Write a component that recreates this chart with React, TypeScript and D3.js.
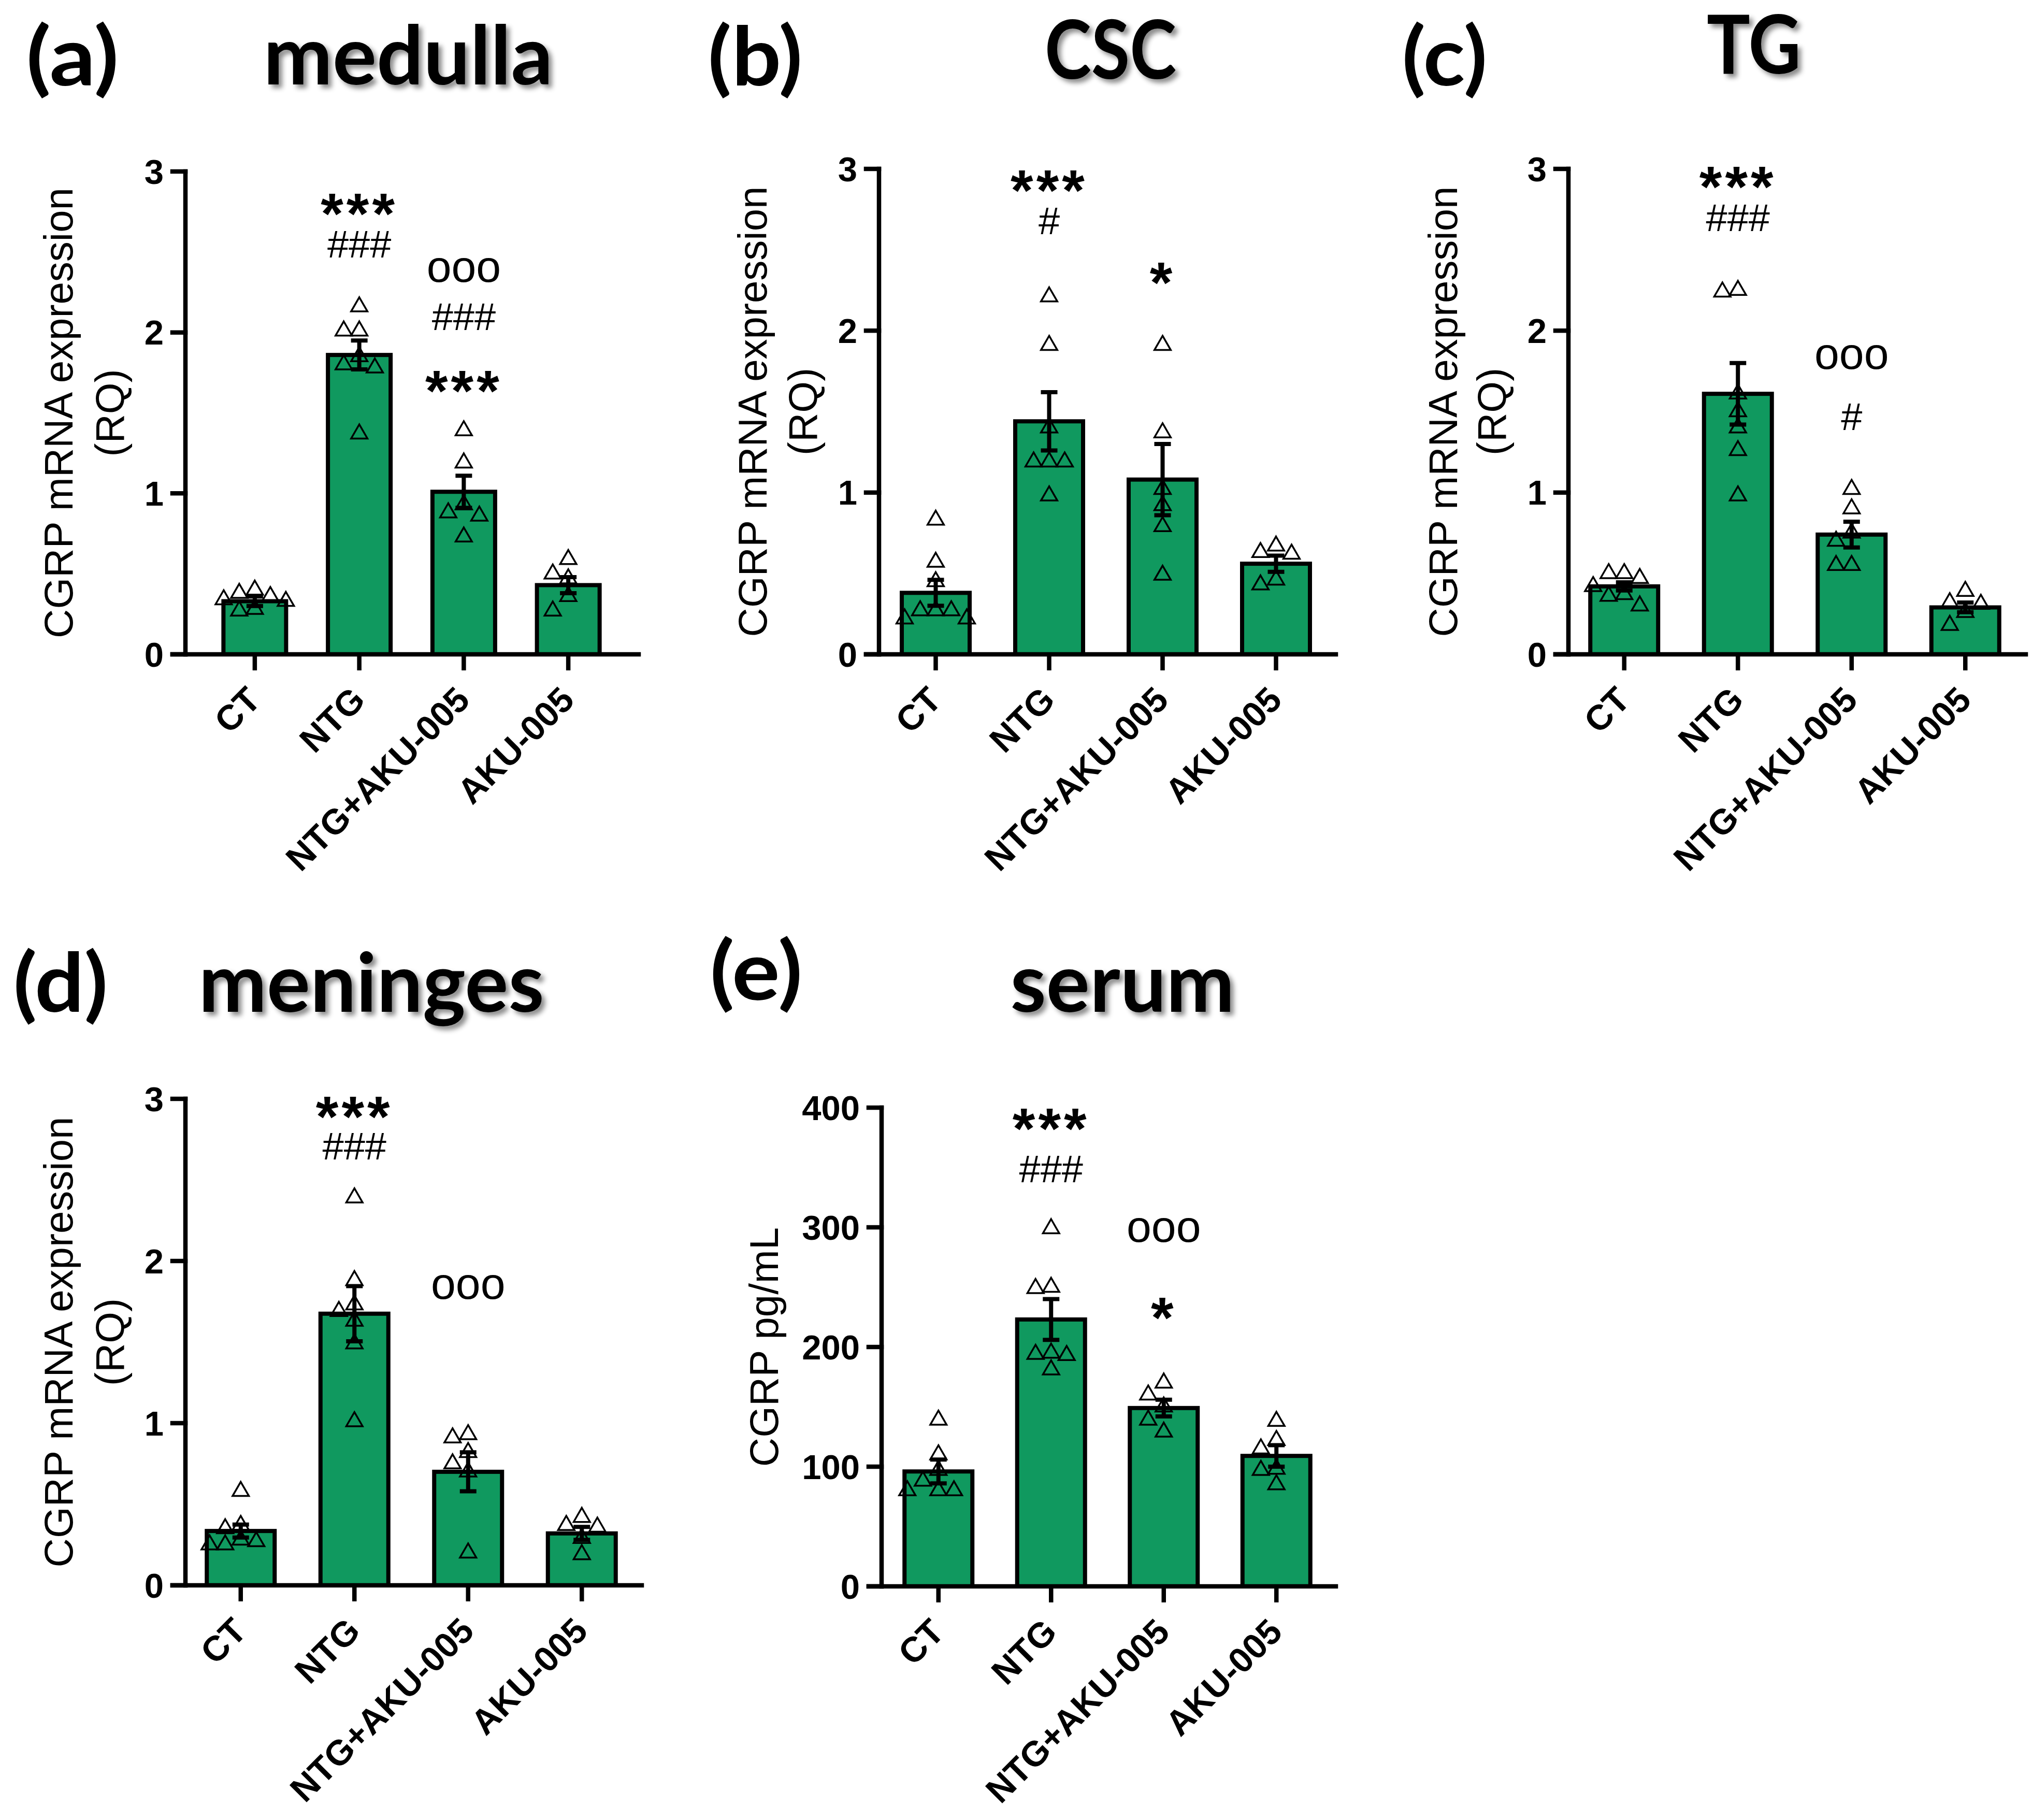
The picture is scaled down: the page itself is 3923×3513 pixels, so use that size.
import * as d3 from "d3";

const groups = ["CT", "NTG", "NTG+AKU-005", "AKU-005"];
const rqTicks = [0, 1, 2, 3];
const serumTicks = [0, 100, 200, 300, 400];

// (a) medulla
const medullaMean = [0.33, 1.86, 1.01, 0.43];
const medullaSem = [0.03, 0.09, 0.1, 0.05];
const medullaPoints = [
  [0.38, 0.36, 0.4, 0.33, 0.28, 0.27, 0.34],
  [2.16, 2.01, 2.01, 1.85, 1.78, 1.8, 1.37],
  [1.39, 1.19, 0.93, 0.88, 0.86, 0.73],
  [0.59, 0.5, 0.47, 0.36, 0.27],
];
const medullaMarks: [string, string, number][] = [
  ["NTG", "***", 2.83],
  ["NTG", "###", 2.55],
  ["NTG+AKU-005", "ooo", 2.39],
  ["NTG+AKU-005", "###", 2.1],
  ["NTG+AKU-005", "***", 1.73],
];

// (b) CSC
const cscMean = [0.38, 1.44, 1.08, 0.56];
const cscSem = [0.08, 0.18, 0.22, 0.05];
const cscPoints = [
  [0.83, 0.57, 0.45, 0.27, 0.27, 0.27, 0.22, 0.22],
  [2.21, 1.91, 1.4, 1.19, 1.19, 1.19, 0.98],
  [1.91, 1.37, 1.02, 0.92, 0.79, 0.49],
  [0.63, 0.67, 0.62, 0.43, 0.46],
];
const cscMarks: [string, string, number][] = [
  ["NTG", "***", 2.96],
  ["NTG", "#", 2.68],
  ["NTG+AKU-005", "*", 2.39],
];

// (c) TG
const tgMean = [0.42, 1.61, 0.74, 0.29];
const tgSem = [0.025, 0.19, 0.08, 0.03];
const tgPoints = [
  [0.5, 0.5, 0.47, 0.42, 0.37, 0.36, 0.3],
  [2.25, 2.24, 1.61, 1.5, 1.4, 1.26, 0.98],
  [1.02, 0.9, 0.75, 0.7, 0.55, 0.55],
  [0.39, 0.32, 0.31, 0.26, 0.18],
];
const tgMarks: [string, string, number][] = [
  ["NTG", "***", 2.98],
  ["NTG", "###", 2.7],
  ["NTG+AKU-005", "ooo", 1.84],
  ["NTG+AKU-005", "#", 1.47],
];

// (d) meninges
const meningesMean = [0.335, 1.675, 0.7, 0.32];
const meningesSem = [0.04, 0.17, 0.12, 0.04];
const meningesPoints = [
  [0.58, 0.37, 0.35, 0.28, 0.27, 0.25, 0.25],
  [2.39, 1.88, 1.73, 1.69, 1.63, 1.49, 1.01],
  [0.93, 0.91, 0.82, 0.75, 0.7, 0.2],
  [0.42, 0.37, 0.36, 0.29, 0.19],
];
const meningesMarks: [string, string, number][] = [
  ["NTG", "***", 2.98],
  ["NTG", "###", 2.71],
  ["NTG+AKU-005", "ooo", 1.84],
];

// (e) serum
const serumMean = [96, 223, 149, 109];
const serumSem = [10, 17, 7, 9];
const serumPoints = [
  [139, 110, 97, 88, 80, 80, 80],
  [299, 250, 249, 195, 194, 193, 181],
  [170, 160, 150, 139, 129],
  [138, 122, 115, 98, 97, 85],
];
const serumMarks: [string, string, number][] = [
  ["NTG", "***", 395],
  ["NTG", "###", 349],
  ["NTG+AKU-005", "ooo", 298],
  ["NTG+AKU-005", "*", 237],
];

const GREEN = "#10995f";
const AXIS_FONT = "'Liberation Sans', Arial, sans-serif";
const TITLE_FONT = "Lato, 'Open Sans', sans-serif";

// greedy scatter so triangles don't sit on top of each other
function swarm(vals: number[], y: (v: number) => number, step: number, w: number, h: number) {
  const placed: { x: number; y: number }[] = [];
  const out = vals.map(() => 0);
  const order = vals.map((_, i) => i).sort((a, b) => vals[b] - vals[a]);
  for (const i of order) {
    const py = y(vals[i]);
    for (let k = 0; k < 30; k++) {
      const dx = (k % 2 === 1 ? -1 : 1) * Math.ceil(k / 2) * step;
      if (!placed.some((p) => Math.abs(p.x - dx) < w && Math.abs(p.y - py) < h)) {
        placed.push({ x: dx, y: py });
        out[i] = dx;
        break;
      }
    }
  }
  return out;
}

function markStyle(text: string) {
  if (text.startsWith("*")) return { size: 112, shift: 0.6, spacing: 6, weight: 700 };
  if (text.startsWith("#")) return { size: 74, shift: 0.35, spacing: 0, weight: 400 };
  return { size: 86, shift: 0.27, spacing: 0, weight: 400 };
}

function Panel({ cfg }: { cfg: any }) {
  const y = d3.scaleLinear().domain([0, cfg.yMax]).range([cfg.y0, cfg.yTop]);
  const x = d3.scaleBand().domain(groups).range([cfg.bandL, cfg.bandR]);
  const cx = (g: string) => (x(g) as number) + x.bandwidth() / 2;
  const tri = d3.symbol(d3.symbolTriangle, 430)() as string;
  const tickLen = 25;
  const midY = (cfg.y0 + cfg.yTop) / 2;

  return (
    <g>
      <text
        x={cfg.tagX}
        y={cfg.tagY}
        textAnchor="middle"
        fontFamily={TITLE_FONT}
        fontWeight={700}
        fontSize={158}
        textLength={cfg.tagW}
        lengthAdjust="spacingAndGlyphs"
      >
        {cfg.tag}
      </text>
      <text
        x={cfg.titleX}
        y={cfg.titleY}
        textAnchor="middle"
        fontFamily={TITLE_FONT}
        fontWeight={700}
        fontSize={158}
        textLength={cfg.titleW}
        lengthAdjust="spacingAndGlyphs"
        filter="url(#shadow)"
      >
        {cfg.title}
      </text>

      {cfg.yLabel.map((s: string, i: number) => (
        <text
          key={s}
          transform={`translate(${cfg.axisX - cfg.yLabelOff[i]},${midY}) rotate(-90)`}
          textAnchor="middle"
          dominantBaseline="central"
          fontFamily={AXIS_FONT}
          fontSize={78}
        >
          {s}
        </text>
      ))}

      {groups.map((g, i) => {
        const offs = swarm(cfg.points[i], y, 30, 30, 28);
        const bx = cx(g) - cfg.barW / 2;
        const top = y(cfg.means[i]);
        const hi = y(cfg.means[i] + cfg.sems[i]);
        const lo = y(cfg.means[i] - cfg.sems[i]);
        return (
          <g key={g}>
            <rect x={bx} y={top} width={cfg.barW} height={cfg.y0 - top} fill={GREEN} stroke="#000" strokeWidth={8} />
            {cfg.points[i].map((v: number, j: number) => (
              <path
                key={j}
                d={tri}
                transform={`translate(${cx(g) + offs[j]},${y(v)})`}
                fill="none"
                stroke="#000"
                strokeWidth={3.5}
              />
            ))}
            <g stroke="#000" strokeWidth={8}>
              <line x1={cx(g)} x2={cx(g)} y1={hi} y2={lo} />
              <line x1={cx(g) - 16} x2={cx(g) + 16} y1={hi} y2={hi} />
              <line x1={cx(g) - 16} x2={cx(g) + 16} y1={lo} y2={lo} />
            </g>
          </g>
        );
      })}

      {cfg.marks.map(([g, t, v]: [string, string, number], i: number) => {
        const st = markStyle(t);
        return (
          <text
            key={i}
            x={cx(g)}
            y={y(v) + st.shift * st.size}
            textAnchor="middle"
            fontFamily={AXIS_FONT}
            fontWeight={st.weight}
            fontSize={st.size}
            letterSpacing={st.spacing}
          >
            {t}
          </text>
        );
      })}

      <g stroke="#000" strokeWidth={8.5} strokeLinecap="square">
        <line x1={cfg.axisX} x2={cfg.axisX} y1={cfg.y0} y2={y(cfg.yMax)} />
        <line x1={cfg.axisX - tickLen} x2={cfg.axisEnd} y1={cfg.y0} y2={cfg.y0} />
        {cfg.ticks.map((t: number) => (
          <line key={t} x1={cfg.axisX - tickLen} x2={cfg.axisX} y1={y(t)} y2={y(t)} />
        ))}
        {groups.map((g) => (
          <line key={g} x1={cx(g)} x2={cx(g)} y1={cfg.y0} y2={cfg.y0 + 31} strokeLinecap="butt" />
        ))}
      </g>

      {cfg.ticks.map((t: number) => (
        <text
          key={t}
          x={cfg.axisX - 42}
          y={y(t)}
          textAnchor="end"
          dominantBaseline="central"
          fontFamily={AXIS_FONT}
          fontWeight={700}
          fontSize={67}
        >
          {t}
        </text>
      ))}

      {groups.map((g) => (
        <text
          key={g}
          transform={`translate(${cx(g) + 15},${cfg.y0 + 92}) rotate(-45)`}
          textAnchor="end"
          fontFamily={AXIS_FONT}
          fontWeight={700}
          fontSize={68}
        >
          {g}
        </text>
      ))}
    </g>
  );
}

const rqLabel = ["CGRP mRNA expression", "(RQ)"];

const panels = [
  {
    tag: "(a)", tagX: 140, tagY: 165, tagW: 179,
    title: "medulla", titleX: 788, titleY: 163, titleW: 559,
    means: medullaMean, sems: medullaSem, points: medullaPoints, marks: medullaMarks,
    yMax: 3, ticks: rqTicks, yLabel: rqLabel, yLabelOff: [245, 146],
    axisX: 358, axisEnd: 1233, bandL: 391, bandR: 1198, barW: 121, yTop: 331, y0: 1263,
  },
  {
    tag: "(b)", tagX: 1458, tagY: 165, tagW: 183,
    title: "CSC", titleX: 2144, titleY: 152, titleW: 254,
    means: cscMean, sems: cscSem, points: cscPoints, marks: cscMarks,
    yMax: 3, ticks: rqTicks, yLabel: rqLabel, yLabelOff: [244, 147],
    axisX: 1697, axisEnd: 2579, bandL: 1697, bandR: 2573, barW: 131, yTop: 326, y0: 1263,
  },
  {
    tag: "(c)", tagX: 2789, tagY: 165, tagW: 165,
    title: "TG", titleX: 3386, titleY: 142, titleW: 182,
    means: tgMean, sems: tgSem, points: tgPoints, marks: tgMarks,
    yMax: 3, ticks: rqTicks, yLabel: rqLabel, yLabelOff: [242, 148],
    axisX: 3028, axisEnd: 3911, bandL: 3026, bandR: 3904, barW: 131, yTop: 326, y0: 1263,
  },
  {
    tag: "(d)", tagX: 117, tagY: 1953, tagW: 183,
    title: "meninges", titleX: 717, titleY: 1953, titleW: 667,
    means: meningesMean, sems: meningesSem, points: meningesPoints, marks: meningesMarks,
    yMax: 3, ticks: rqTicks, yLabel: rqLabel, yLabelOff: [245, 146],
    axisX: 358, axisEnd: 1239, bandL: 355, bandR: 1233, barW: 131, yTop: 2121, y0: 3060,
  },
  {
    tag: "(e)", tagX: 1460, tagY: 1930, tagW: 179,
    title: "serum", titleX: 2167, titleY: 1953, titleW: 433,
    means: serumMean, sems: serumSem, points: serumPoints, marks: serumMarks,
    yMax: 400, ticks: serumTicks, yLabel: ["CGRP pg/mL"], yLabelOff: [227],
    axisX: 1702, axisEnd: 2579, bandL: 1703, bandR: 2573, barW: 131, yTop: 2138, y0: 3062,
  },
];

export default function App() {
  return (
    <svg
      width={3923}
      height={3513}
      style={{ position: "absolute", left: 0, top: 0, background: "#fff" }}
    >
      <defs>
        <filter id="shadow" x="-10%" y="-20%" width="130%" height="150%">
          <feDropShadow dx={7} dy={7} stdDeviation={5} floodColor="#000" floodOpacity={0.45} />
        </filter>
      </defs>
      <rect width={3923} height={3513} fill="#fff" />
      {panels.map((p) => (
        <Panel key={p.tag} cfg={p} />
      ))}
    </svg>
  );
}
